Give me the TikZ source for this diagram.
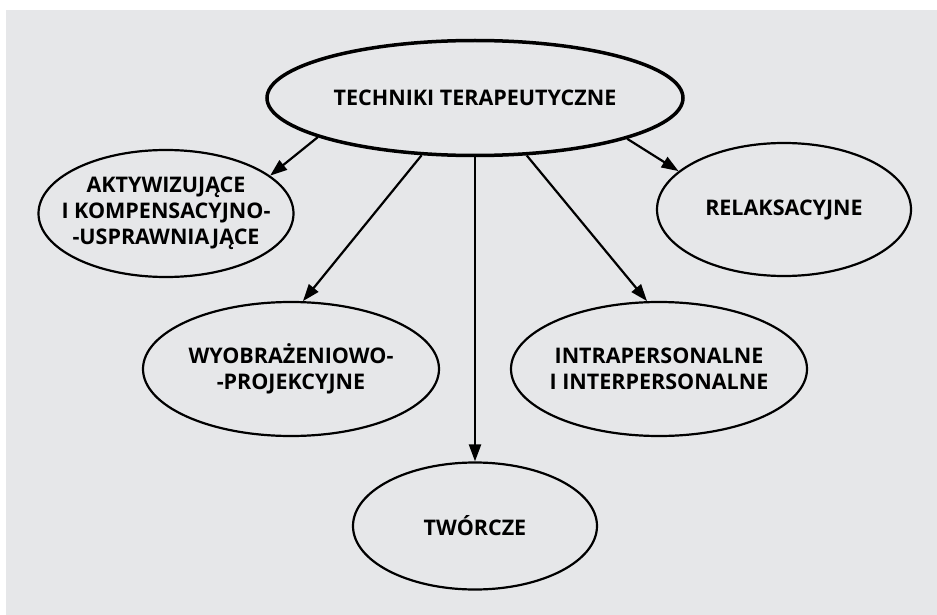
\documentclass[tikz,border=0pt]{standalone}
\usepackage{fontspec}
\setmainfont{Open Sans}
\usepackage{tikz}
\usetikzlibrary{shapes.geometric,arrows.meta}
\definecolor{tlo}{HTML}{E6E7E9}

\begin{document}
\begin{tikzpicture}[x=1pt,y=-1pt,
  owal/.style={draw,ellipse,line width=2.2pt,inner xsep=-40pt,inner ysep=0pt,align=center,font=\bfseries\fontsize{21.5}{26}\selectfont},
  strz/.style={-{Triangle[length=17pt,width=12pt]},line width=2.2pt}]
\useasboundingbox[fill=white] (0,0) rectangle (937,615);
\fill[tlo] (6,10) rectangle (937,615);
\node[owal,line width=3.5pt,minimum width=416pt,minimum height=115pt] (tech) at (475,98) {TECHNIKI TERAPEUTYCZNE};
\node[owal,minimum width=255pt,minimum height=127pt] (akt) at (166,213.5) {AKTYWIZUJĄCE\\I KOMPENSACYJNO-\\-USPRAWNIAJĄCE};
\node[owal,minimum width=254pt,minimum height=133pt] (relaks) at (784,209.5) {RELAKSACYJNE};
\node[owal,minimum width=296pt,minimum height=134pt] (wyo) at (291,369) {WYOBRAŻENIOWO-\\-PROJEKCYJNE};
\node[owal,minimum width=296pt,minimum height=134pt] (intra) at (659,369) {INTRAPERSONALNE\\I INTERPERSONALNE};
\node[owal,minimum width=244pt,minimum height=127pt] (tworcze) at (475,526) {TWÓRCZE};
\draw[strz] (tech.194.6) -- (akt.20);
\draw[strz] (tech.227.6) -- (wyo.80);
\draw[strz] (tech.south) -- (tworcze.north);
\draw[strz] (tech.312.4) -- (intra.100);
\draw[strz] (tech.345.4) -- (relaks.160);
\end{tikzpicture}
\end{document}
